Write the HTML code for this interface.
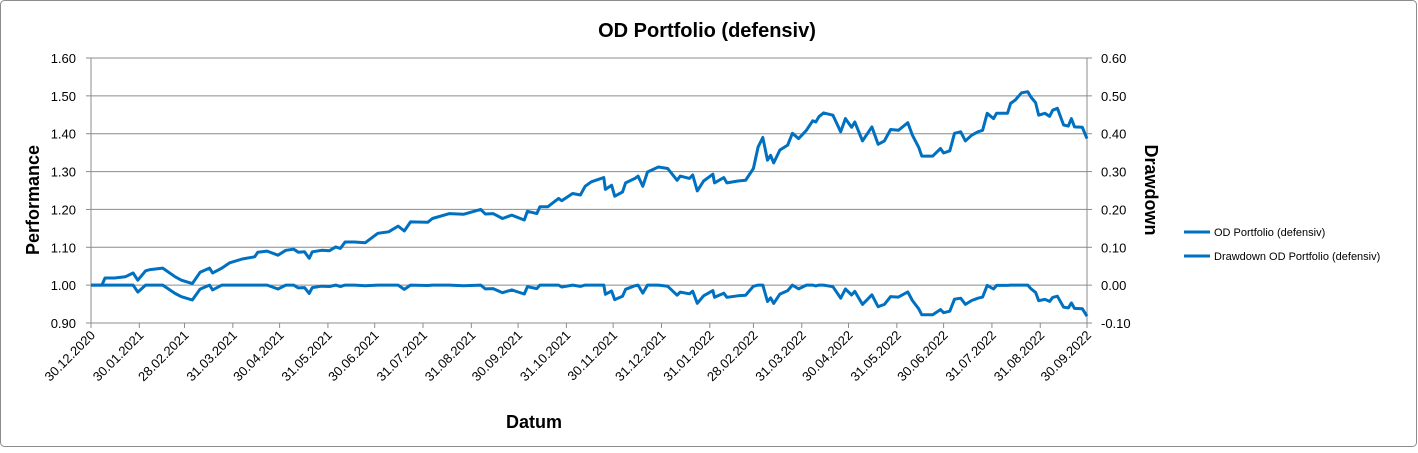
<!DOCTYPE html>
<html><head><meta charset="utf-8"><style>
body{margin:0;background:#fff;}
svg text{font-family:"Liberation Sans",sans-serif;}
</style></head><body>
<svg id="chart" width="1418" height="448" xmlns="http://www.w3.org/2000/svg">
<rect x="0.5" y="0.5" width="1416" height="446" rx="4" fill="#fff" stroke="#8c8c8c"/>
<text x="707" y="37" text-anchor="middle" font-size="20" font-weight="bold">OD Portfolio (defensiv)</text>
<g id="grid"></g>
<g id="axes"></g>
<g id="series"></g>
<text transform="translate(39,200) rotate(-90)" text-anchor="middle" font-size="18" font-weight="bold">Performance</text>
<text transform="translate(1145,190) rotate(90)" text-anchor="middle" font-size="18" font-weight="bold">Drawdown</text>
<text x="534" y="428" text-anchor="middle" font-size="18" font-weight="bold">Datum</text>
<g>
<line x1="1184" y1="232" x2="1210" y2="232" stroke="#0070c0" stroke-width="3"/>
<text x="1214" y="236" font-size="11">OD Portfolio (defensiv)</text>
<line x1="1184" y1="256" x2="1210" y2="256" stroke="#0070c0" stroke-width="3"/>
<text x="1214" y="260" font-size="11">Drawdown OD Portfolio (defensiv)</text>
</g>
</svg>
<script>
const days=[0,7,9,15,22,27,30,35,38,46,54,58,65,70,76,78,84,89,97,105,107,113,120,125,130,133,137,140,142,148,153,157,160,163,169,176,184,191,197,201,205,216,219,230,239,250,253,258,264,270,273,278,280,286,288,293,300,302,309,314,317,321,329,330,334,336,341,343,349,351,354,357,364,370,376,378,384,386,389,393,399,400,406,408,415,420,425,428,431,434,436,438,442,447,450,454,459,463,465,467,470,476,481,484,488,490,495,501,505,509,513,518,524,527,531,533,540,545,547,551,554,558,561,565,569,572,575,579,581,588,590,593,597,601,603,606,608,612,615,617,620,624,627,629,631,636,639];
const perf=[1.000,1.000,1.019,1.019,1.022,1.032,1.013,1.038,1.041,1.045,1.022,1.013,1.004,1.034,1.045,1.032,1.045,1.059,1.069,1.075,1.087,1.090,1.079,1.092,1.095,1.087,1.088,1.071,1.088,1.092,1.091,1.101,1.097,1.114,1.114,1.112,1.137,1.141,1.156,1.143,1.167,1.166,1.176,1.189,1.187,1.200,1.188,1.189,1.176,1.185,1.180,1.172,1.195,1.189,1.207,1.207,1.229,1.223,1.242,1.238,1.261,1.273,1.284,1.253,1.264,1.235,1.246,1.270,1.282,1.288,1.261,1.299,1.312,1.308,1.277,1.288,1.282,1.291,1.249,1.275,1.293,1.270,1.284,1.270,1.275,1.277,1.308,1.365,1.390,1.330,1.343,1.323,1.357,1.370,1.401,1.387,1.409,1.434,1.431,1.445,1.455,1.449,1.405,1.440,1.417,1.431,1.381,1.418,1.372,1.381,1.411,1.409,1.429,1.396,1.364,1.341,1.341,1.361,1.349,1.355,1.401,1.405,1.381,1.396,1.405,1.409,1.454,1.440,1.454,1.454,1.480,1.489,1.508,1.511,1.497,1.482,1.449,1.454,1.446,1.462,1.467,1.423,1.420,1.440,1.418,1.417,1.387];
const tickDays=[0,31,60,91,121,152,182,213,244,274,305,335,366,397,425,456,486,517,547,578,609,639];
const tickLabels=["30.12.2020","30.01.2021","28.02.2021","31.03.2021","30.04.2021","31.05.2021","30.06.2021","31.07.2021","31.08.2021","30.09.2021","31.10.2021","30.11.2021","31.12.2021","31.01.2022","28.02.2022","31.03.2022","30.04.2022","31.05.2022","30.06.2022","31.07.2022","31.08.2022","30.09.2022"];
const leftTicks=[0.9,1.0,1.1,1.2,1.3,1.4,1.5,1.6];
const rightTicks=[-0.1,0,0.1,0.2,0.3,0.4,0.5,0.6];

const NS="http://www.w3.org/2000/svg";
const X0=91,X1=1087,Y0=323,Y1=58,DMAX=639;
const xs=d=>X0+d/DMAX*(X1-X0);
const yL=v=>Y0-(v-0.9)/0.7*(Y0-Y1);
const yR=v=>Y0-(v+0.1)/0.7*(Y0-Y1);
function mk(tag,attrs,parent){const e=document.createElementNS(NS,tag);for(const k in attrs)e.setAttribute(k,attrs[k]);parent.appendChild(e);return e;}
const grid=document.getElementById('grid'),axes=document.getElementById('axes'),series=document.getElementById('series');

leftTicks.forEach((v,i)=>{
  const y=yL(v);
  const g=mk('line',{x1:X0,x2:X1,y1:y,y2:y,stroke:'#8c8c8c','stroke-width':1},grid);
  
  
  mk('line',{x1:X0-5,x2:X0,y1:y,y2:y,stroke:'#8c8c8c'},axes);
  const t=mk('text',{x:X0-15,y:y+5,'text-anchor':'end','font-size':13},axes);
  t.textContent=v.toFixed(2);
  
  
});
rightTicks.forEach(v=>{
  const y=yR(v);
  mk('line',{x1:X1,x2:X1+5,y1:y,y2:y,stroke:'#8c8c8c'},axes);
  const t=mk('text',{x:X1+14,y:y+5,'text-anchor':'start','font-size':13},axes);
  t.textContent=v.toFixed(2);
  
  
});
mk('line',{x1:X0,x2:X0,y1:Y1,y2:Y0,stroke:'#8c8c8c'},axes);
mk('line',{x1:X1,x2:X1,y1:Y1,y2:Y0,stroke:'#8c8c8c'},axes);
mk('line',{x1:X0,x2:X1,y1:Y0,y2:Y0,stroke:'#8c8c8c'},axes);
tickDays.forEach((d,i)=>{
  const x=xs(d);
  mk('line',{x1:x,x2:x,y1:Y0,y2:Y0+5,stroke:'#8c8c8c'},axes);
  const t=mk('text',{transform:`translate(${x+5},${Y0+13}) rotate(-45)`,'text-anchor':'end','font-size':13},axes);
  t.textContent=tickLabels[i];
  
  
});
let p1='',p2='',mx=-Infinity;
days.forEach((d,i)=>{
  const v=perf[i];mx=Math.max(mx,v);const dd=v/mx-1;
  p1+=(i?'L':'M')+xs(d).toFixed(1)+','+yL(v).toFixed(1);
  p2+=(i?'L':'M')+xs(d).toFixed(1)+','+yR(dd).toFixed(1);
});
const l1=mk('path',{d:p1,fill:'none',stroke:'#0070c0','stroke-width':3,'stroke-linejoin':'round'},series);


const l2=mk('path',{d:p2,fill:'none',stroke:'#0070c0','stroke-width':3,'stroke-linejoin':'round'},series);


</script>
</body></html>
